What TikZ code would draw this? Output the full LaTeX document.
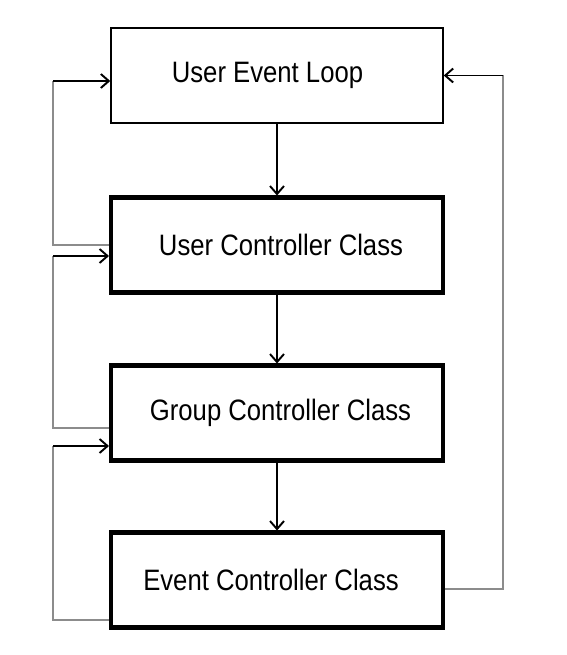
\documentclass[tikz,border=0pt]{standalone}
\usepackage{fontspec}
\newfontfamily\boxfont{Liberation Sans}[FakeStretch=0.87]
\usetikzlibrary{arrows.meta, positioning}
\tikzset{
  % scatola del ciclo eventi
  loopbox/.style={draw=black, line width=0.85pt, minimum width=6.64cm,
    minimum height=1.9cm, fill=white,
    font=\boxfont\fontsize{16.8}{19}\selectfont},
  % scatola di una classe controller
  ctrlbox/.style={loopbox, line width=2.3pt},
  % spostamento orizzontale del testo
  txtshift/.style={execute at begin node={\hspace*{#1}}},
  % chiamata verso il basso
  callarr/.style={-{Straight Barb[length=1.6mm, width=2.8mm]}, line width=1.1pt},
  % ritorno (tratto grigio)
  retline/.style={black!45, line width=0.6pt},
}
\begin{document}
\begin{tikzpicture}[x=0.02cm, y=-0.02cm]
  \useasboundingbox (0,0) rectangle (566,655);
  % scatole
  \node[loopbox, txtshift=-0.38cm] (uel) at (277,75.5) {User Event Loop};
  \node[ctrlbox, txtshift=0.16cm] (ucc) at (277,245) {User Controller Class};
  \node[ctrlbox, txtshift=0.14cm] (gcc) at (277,413) {Group Controller Class};
  \node[ctrlbox, txtshift=-0.24cm] (ecc) at (277,580) {Event Controller Class};
  % chiamate
  \draw[callarr] (uel) -- (ucc);
  \draw[callarr] (ucc) -- (gcc);
  \draw[callarr] (gcc) -- (ecc);
  % ritorni a sinistra
  \coordinate (ra) at (53,81);
  \coordinate (rb) at (53,256);
  \coordinate (rc) at (53,446);
  \draw[retline] (ucc.west) -| (ra);
  \draw[retline] (gcc.west |- 0,428) -| (rb);
  \draw[retline] (ecc.west |- 0,620) -| (rc);
  \draw[callarr] (ra) -- (ra -| uel.west);
  \draw[callarr] (rb) -- (rb -| ucc.west);
  \draw[callarr] (rc) -- (rc -| gcc.west);
  % ritorno a destra
  \coordinate (rd) at (503,75.5);
  \draw[retline] (ecc.east |- 0,589) -| (rd);
  \draw[callarr] (rd) -- (uel.east);
\end{tikzpicture}
\end{document}
